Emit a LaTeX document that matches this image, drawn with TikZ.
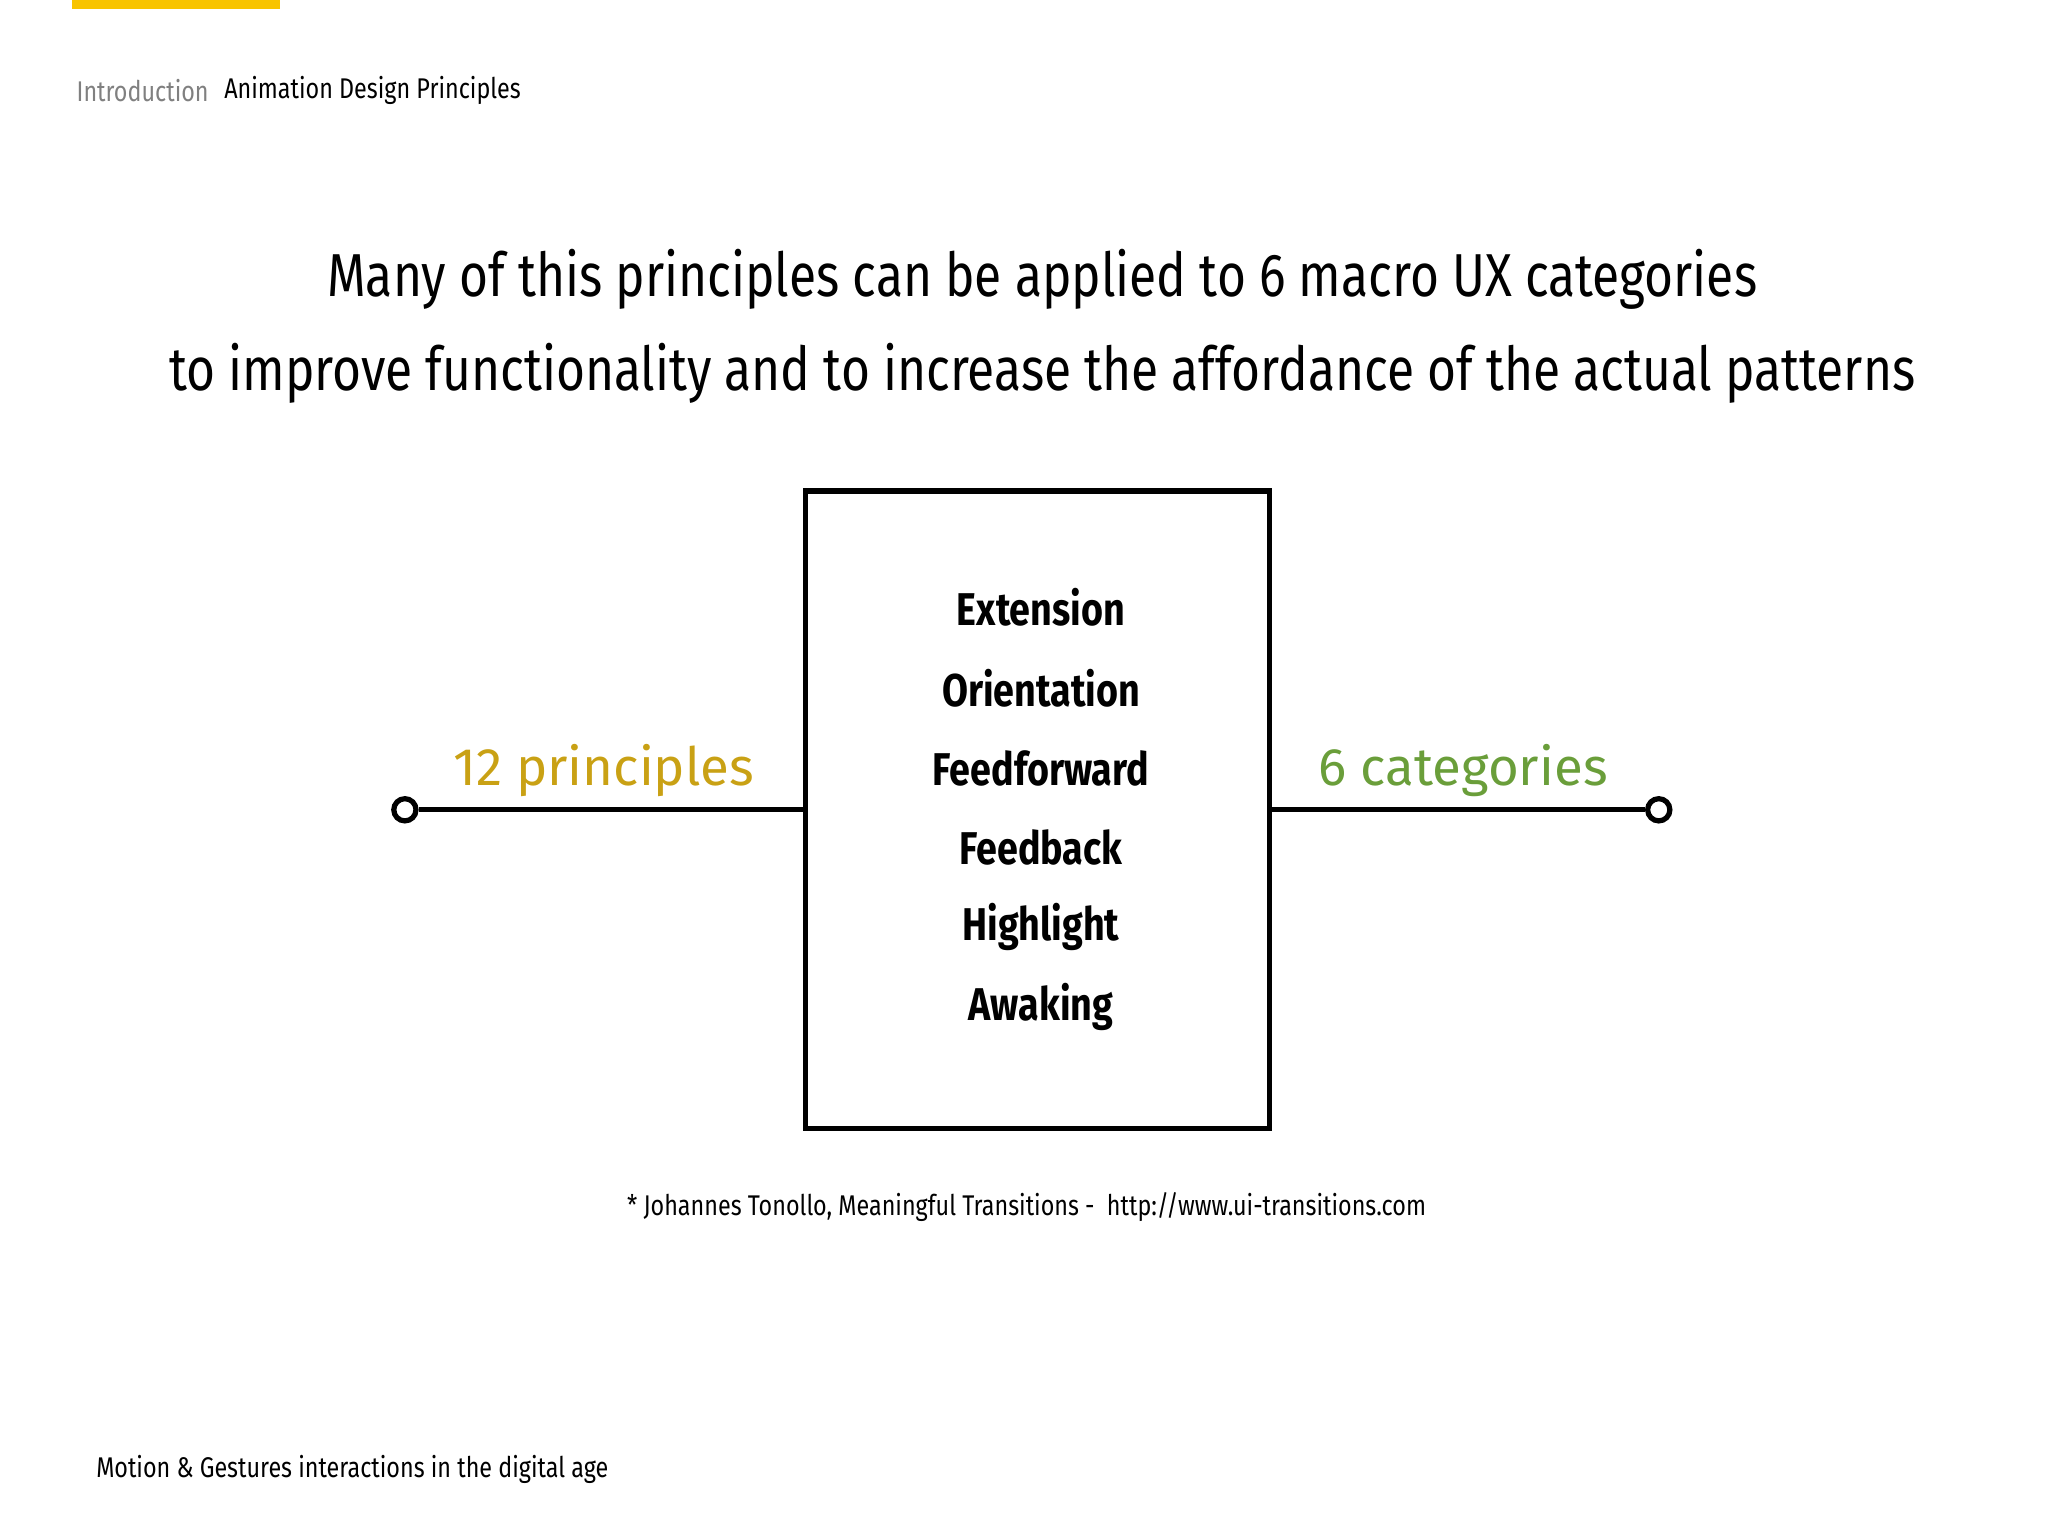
\documentclass[tikz,border=0pt]{standalone}
\usepackage{fontspec}
\setmainfont{Fira Sans}[FakeStretch=0.82]
\newfontfamily\wide{Fira Sans}
\definecolor{gold}{HTML}{C9A114}
\definecolor{leaf}{HTML}{6A9E3A}
\definecolor{topyellow}{HTML}{F8C400}
\begin{document}
\begin{tikzpicture}[x=0.01cm,y=-0.01cm,
  item/.style={font=\fontsize{10}{12}\selectfont\bfseries},
  wire/.style={line width=0.04cm},
  small/.style={inner sep=0pt,font=\fontsize{6.2}{7}\selectfont},
  pin/.style={circle,draw,line width=0.04cm,fill=white,inner sep=0pt,minimum size=0.17cm}]
\useasboundingbox (0,0) rectangle (1568,1176);
\fill[fill=topyellow] (55,0) rectangle (214,7);
\node[anchor=west,text=gray,small] (intro) at (58,69) {Introduction};
\node[anchor=west,small] (adp) at (171,69) {Animation Design Principles};
\node[align=center,font=\fontsize{13.2}{20.5}\selectfont] (title) at (798,250)
 {Many of this principles can be applied to 6 macro UX categories\\to improve functionality and to increase the affordance of the actual patterns};
\node[draw,wire,minimum width=3.55cm,minimum height=4.88cm,inner sep=0pt] (box) at (794.5,620) {};
\foreach \t/\y/\n in {Extension/465/a,Orientation/527/b,Feedforward/588/c,Feedback/649/d,Highlight/710/e,Awaking/771/f}
  \node[item] (\n) at (797,\y) {\t};
\node[pin] (l) at (310,620) {};
\node[pin] (r) at (1270,620) {};
\draw[wire] (l) -- (box.west);
\draw[wire] (box.east) -- (r);
\node[anchor=east,inner sep=0pt,text=gold,font=\wide\fontsize{11.5}{14}\selectfont] (p) at (578,590) {12 principles};
\node[anchor=west,inner sep=0pt,text=leaf,font=\wide\fontsize{11.5}{14}\selectfont] (c) at (1009,590) {6 categories};
\node[small] (fn) at (786,924) {* Johannes Tonollo, Meaningful Transitions -\ \ http://www.ui-transitions.com};
\node[anchor=west,small] (ft) at (73,1125) {Motion \& Gestures interactions in the digital age};
\end{tikzpicture}
\end{document}
